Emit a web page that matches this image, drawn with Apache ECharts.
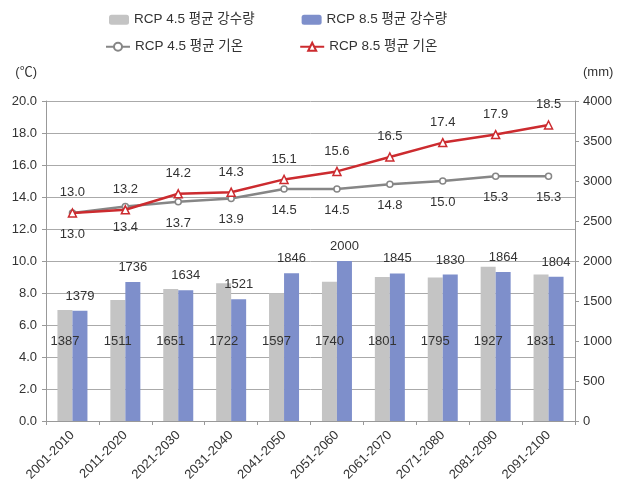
<!DOCTYPE html>
<html><head><meta charset="utf-8">
<script src="https://cdn.jsdelivr.net/npm/echarts@6/dist/echarts.min.js"></script>
<style>html,body{margin:0;padding:0;background:#fff}#c{width:629px;height:488px}</style>
</head><body><div id="c"></div>
<script>
const categories = ['2001-2010','2011-2020','2021-2030','2031-2040','2041-2050','2051-2060','2061-2070','2071-2080','2081-2090','2091-2100'];
const precip45 = [1387,1511,1651,1722,1597,1740,1801,1795,1927,1831];
const precip85 = [1379,1736,1634,1521,1846,2000,1845,1830,1864,1804];
const temp45 = [13.0,13.4,13.7,13.9,14.5,14.5,14.8,15.0,15.3,15.3];
const temp85 = [13.0,13.2,14.2,14.3,15.1,15.6,16.5,17.4,17.9,18.5];
const names = ['RCP 4.5 평균 강수량','RCP 8.5 평균 강수량','RCP 4.5 평균 기온','RCP 8.5 평균 기온'];

const FONT = "'Liberation Sans Narrow','Liberation Sans','Noto Sans CJK KR',sans-serif";
const TXT = '#333';
const chart = echarts.init(document.getElementById('c'), null, {renderer:'canvas'});
chart.setOption({
  animation:false,
  textStyle:{fontFamily:FONT},
  legend:[
    {data:[names[0],names[1]], top:8, left:104, itemWidth:20, itemHeight:10, itemGap:47,
     textStyle:{fontSize:13.5, color:TXT, fontFamily:FONT}},
    {data:[names[2],names[3]], top:35, left:100, itemWidth:24, itemHeight:10, itemGap:56,
     textStyle:{fontSize:13.5, color:TXT, fontFamily:FONT}}
  ],
  grid:{left:46, right:54, top:101, bottom:67},
  xAxis:{type:'category', data:categories,
    axisLine:{lineStyle:{color:'#999'}},
    axisTick:{show:true, length:4, lineStyle:{color:'#999'}},
    axisLabel:{rotate:45, fontSize:13, color:TXT, margin:12, interval:0}},
  yAxis:[
    {type:'value', min:0, max:20, interval:2, name:'(℃)', nameLocation:'end', nameGap:22,
     nameTextStyle:{fontSize:13, color:TXT, align:'right', padding:[0,9,0,0]},
     axisLine:{show:true, lineStyle:{color:'#999'}},
     axisTick:{show:true, length:4, lineStyle:{color:'#999'}},
     axisLabel:{formatter:v=>v.toFixed(1), fontSize:13, color:TXT, margin:9},
     splitLine:{lineStyle:{color:'#aaa'}}},
    {type:'value', min:0, max:4000, interval:500, name:'(mm)', nameLocation:'end', nameGap:22,
     nameTextStyle:{fontSize:13, color:TXT, align:'left', padding:[0,0,0,8]},
     axisLine:{show:true, lineStyle:{color:'#999'}},
     axisTick:{show:true, length:4, lineStyle:{color:'#999'}},
     axisLabel:{formatter:v=>String(v), fontSize:13, color:TXT, margin:8},
     splitLine:{show:false}}
  ],
  series:[
    {name:names[0], type:'bar', yAxisIndex:1, data:precip45, barWidth:15, barGap:'0%',
     itemStyle:{color:'#c4c4c4'},
     label:{show:true, position:'insideBottom', distance:73, fontSize:13, color:TXT}},
    {name:names[1], type:'bar', yAxisIndex:1, data:precip85, barWidth:15, barGap:'0%',
     itemStyle:{color:'#7e8fcb'},
     label:{show:true, position:'top', distance:8, fontSize:13, color:TXT}},
    {name:names[2], type:'line', yAxisIndex:0, data:temp45, symbol:'circle', symbolSize:6,
     lineStyle:{color:'#868686', width:2.5}, itemStyle:{color:'#fff', borderColor:'#868686', borderWidth:1.5},
     label:{show:true, position:'bottom', distance:11, fontSize:13, color:TXT, formatter:p=>p.value.toFixed(1)}, z:3},
    {name:names[3], type:'line', yAxisIndex:0, data:temp85, symbol:'triangle', symbolSize:8,
     lineStyle:{color:'#cc2b2f', width:2.5}, itemStyle:{color:'#fff', borderColor:'#cc2b2f', borderWidth:1.5},
     label:{show:true, position:'top', distance:9, fontSize:13, color:TXT, formatter:p=>p.value.toFixed(1)}, z:4}
  ]
});
</script></body></html>
